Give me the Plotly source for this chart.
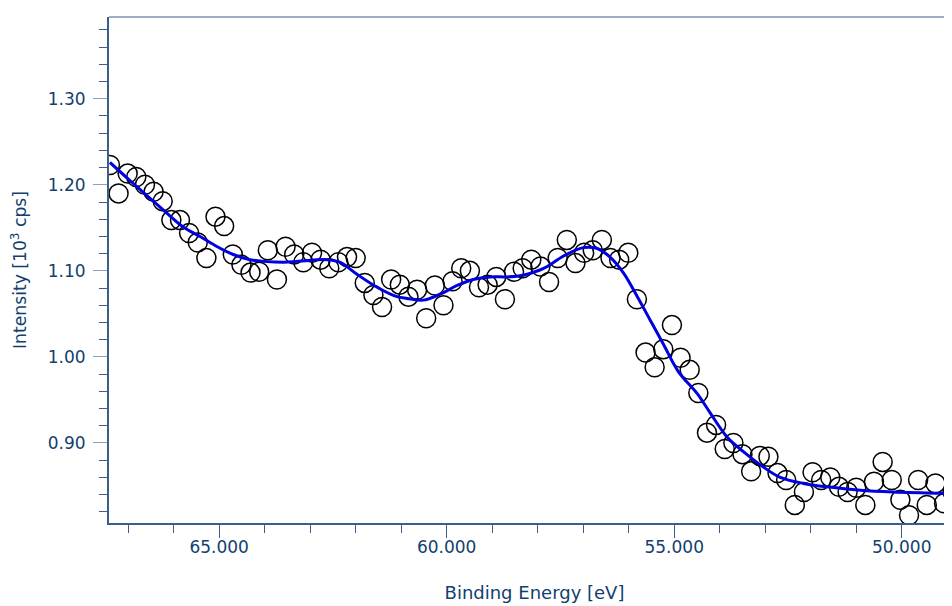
import plotly.graph_objects as go

# Measured data: binding energy (eV) and intensity (10^3 cps)
energy = [67.40, 67.21, 67.01, 66.82, 66.63, 66.44, 66.24, 66.05, 65.86, 65.66,
          65.47, 65.28, 65.08, 64.89, 64.70, 64.51, 64.31, 64.12, 63.93, 63.73,
          63.54, 63.35, 63.15, 62.96, 62.77, 62.58, 62.38, 62.19, 62.00, 61.80,
          61.61, 61.42, 61.22, 61.03, 60.84, 60.65, 60.45, 60.26, 60.07, 59.87,
          59.68, 59.49, 59.29, 59.10, 58.91, 58.72, 58.52, 58.33, 58.14, 57.94,
          57.75, 57.56, 57.36, 57.17, 56.98, 56.79, 56.59, 56.40, 56.21, 56.01,
          55.82, 55.63, 55.43, 55.24, 55.05, 54.86, 54.66, 54.47, 54.28, 54.08,
          53.89, 53.70, 53.50, 53.31, 53.12, 52.93, 52.73, 52.54, 52.35, 52.15,
          51.96, 51.77, 51.57, 51.38, 51.19, 51.00, 50.80, 50.61, 50.42, 50.22,
          50.03, 49.84, 49.64, 49.45, 49.26, 49.07, 48.88]
intensity = [1.223, 1.190, 1.213, 1.209, 1.200, 1.192, 1.181, 1.159, 1.159, 1.144,
             1.133, 1.115, 1.163, 1.152, 1.119, 1.107, 1.098, 1.099, 1.124, 1.090,
             1.128, 1.119, 1.110, 1.121, 1.113, 1.103, 1.110, 1.116, 1.115, 1.086,
             1.072, 1.058, 1.090, 1.084, 1.070, 1.078, 1.045, 1.083, 1.060, 1.088,
             1.103, 1.100, 1.081, 1.084, 1.093, 1.067, 1.099, 1.103, 1.113, 1.105,
             1.087, 1.115, 1.136, 1.109, 1.121, 1.124, 1.136, 1.115, 1.113, 1.121,
             1.067, 1.005, 0.988, 1.009, 1.037, 0.999, 0.985, 0.958, 0.912, 0.921,
             0.893, 0.900, 0.887, 0.867, 0.885, 0.884, 0.865, 0.857, 0.828, 0.843,
             0.866, 0.857, 0.860, 0.849, 0.843, 0.848, 0.828, 0.855, 0.878, 0.857,
             0.834, 0.816, 0.857, 0.828, 0.853, 0.830, 0.843]

# Fitted envelope
fit_energy = [67.40, 66.96, 66.23, 65.79, 65.42, 65.04, 64.69, 64.32, 63.59, 62.63,
              62.34, 61.97, 61.53, 61.09, 60.87, 60.52, 60.14, 59.77, 59.42, 59.04,
              58.67, 58.32, 57.95, 57.79, 57.44, 57.00, 56.69, 56.41, 56.12, 55.81,
              55.53, 55.24, 54.91, 54.49, 54.21, 53.84, 53.48, 53.04, 52.67, 52.16,
              51.64, 50.91, 50.19, 48.60]
fit_intensity = [1.226, 1.205, 1.171, 1.151, 1.140, 1.128, 1.119, 1.113, 1.110, 1.113,
                 1.110, 1.096, 1.081, 1.070, 1.068, 1.066, 1.073, 1.083, 1.090, 1.093,
                 1.093, 1.095, 1.101, 1.105, 1.117, 1.127, 1.126, 1.116, 1.098, 1.070,
                 1.043, 1.015, 0.983, 0.957, 0.935, 0.907, 0.890, 0.872, 0.860, 0.853,
                 0.849, 0.845, 0.843, 0.841]

text_color = "#123f6e"
line_color = "#3a5f8c"
font_family = "DejaVu Sans, Verdana, sans-serif"

fig = go.Figure()
fig.add_trace(go.Scatter(
    x=energy, y=intensity, mode="markers",
    marker=dict(symbol="circle", size=19, color="rgba(0,0,0,0)",
                line=dict(color="black", width=1.5)),
    showlegend=False, cliponaxis=True))
fig.add_trace(go.Scatter(
    x=fit_energy, y=fit_intensity, mode="lines",
    line=dict(color="#0000e0", width=3, shape="spline", smoothing=1.0),
    showlegend=False))

fig.update_layout(
    width=952, height=606,
    margin=dict(l=101, r=0, t=9, b=91),
    paper_bgcolor="white", plot_bgcolor="white",
    font=dict(family=font_family, color=text_color, size=17),
    xaxis=dict(
        range=[67.42, 48.72], autorange=False,
        tickmode="linear", tick0=50, dtick=5, tickformat=".3f",
        ticks="outside", ticklen=13, tickwidth=1, tickcolor=line_color,
        minor=dict(dtick=1, tick0=50, ticks="outside", ticklen=8, tickcolor=line_color, showgrid=False),
        showline=True, linecolor=line_color, linewidth=2, mirror=False,
        showgrid=False, zeroline=False,
        ticklabelstandoff=-5,
        tickfont=dict(size=17, color=text_color),
        title=dict(text="Binding Energy [eV]", font=dict(size=18, color=text_color), standoff=30),
    ),
    yaxis=dict(
        range=[0.807, 1.395], autorange=False,
        tickmode="linear", tick0=0.9, dtick=0.1, tickformat=".2f",
        ticks="outside", ticklen=14, tickwidth=1, tickcolor="#8aa2bf",
        minor=dict(dtick=0.02, tick0=0.9, ticks="outside", ticklen=8, tickcolor=line_color, showgrid=False),
        showline=True, linecolor=line_color, linewidth=2,
        showgrid=False, zeroline=False,
        ticklabelstandoff=4,
        tickfont=dict(size=17, color=text_color),
        title=dict(text="Intensity [10<sup>3</sup> cps]", font=dict(size=17.2, color=text_color), standoff=18),
    ),
    shapes=[dict(type="line", xref="paper", yref="paper", x0=0, x1=1, y0=1, y1=1,
                 line=dict(color=line_color, width=1))],
)

fig.write_html("out.html")
